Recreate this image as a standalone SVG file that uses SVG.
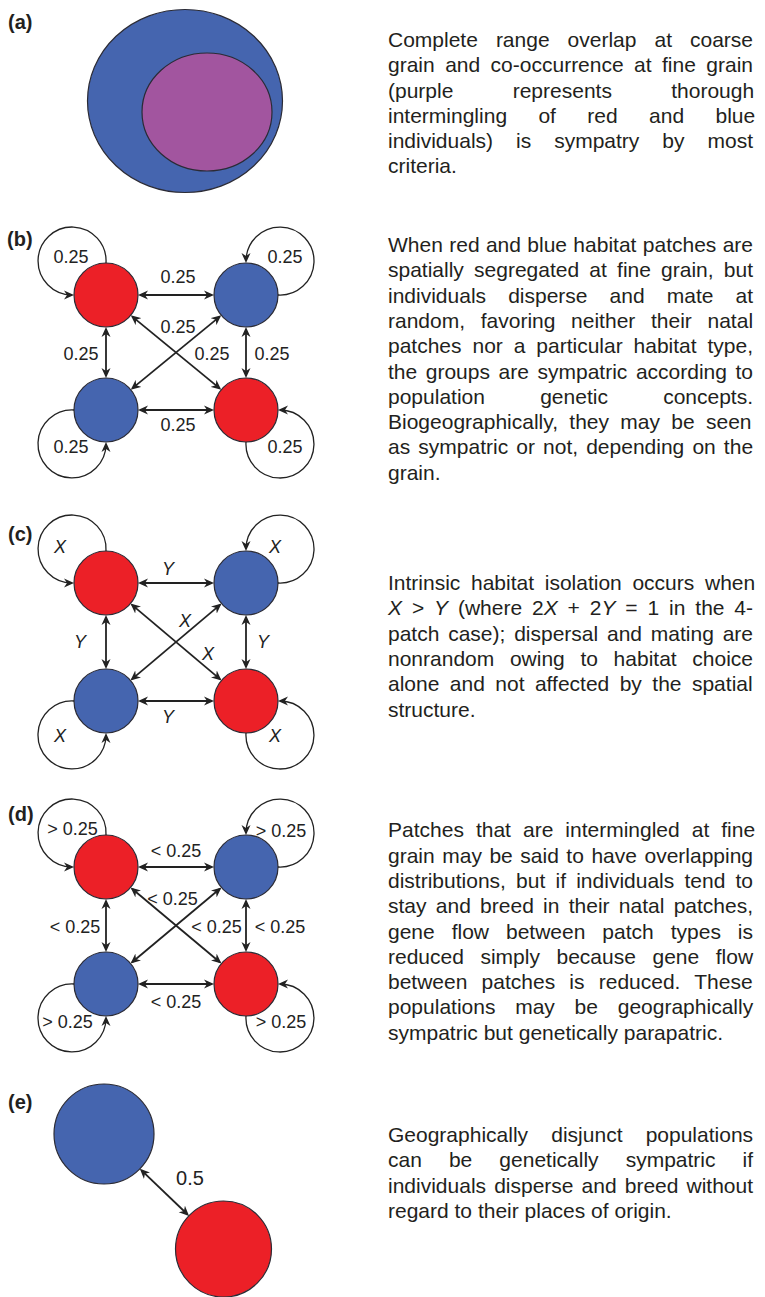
<svg xmlns="http://www.w3.org/2000/svg" width="765" height="1297" viewBox="0 0 765 1297">
<style>
.bg{fill:#ffffff}
.red{fill:#EC2027;stroke:#2b2b35;stroke-width:1.2}
.blue{fill:#4565AF;stroke:#2b2b35;stroke-width:1.2}
.purple{fill:#A2559F;stroke:#2b2b35;stroke-width:1.2}
.edge{fill:none;stroke:#222;stroke-width:1.8;marker-start:url(#ah);marker-end:url(#ah)}
.loop{fill:none;stroke:#222;stroke-width:1.3;marker-end:url(#ah)}
.lab{font-family:"Liberation Sans",Arial,sans-serif;font-size:18px;fill:#222;text-anchor:middle}
.it{font-style:italic}
.pl{font-family:"Liberation Sans",Arial,sans-serif;font-size:20px;font-weight:bold;fill:#231f20}
.desc text{font-family:"Liberation Sans",Arial,sans-serif;font-size:21px;fill:#231f20}
</style>
<defs>
<marker id="ah" viewBox="0 0 10 10" refX="8" refY="5" markerWidth="10" markerHeight="10" markerUnits="userSpaceOnUse" orient="auto-start-reverse">
<path d="M0,0.5 L10,5 L0,9.5 L3,5 z" fill="#222"/>
</marker>
</defs>
<rect class="bg" x="0" y="0" width="765" height="1297"/>

<!-- panel labels -->
<g id="panel-labels">
<text class="pl" x="8" y="29">(a)</text>
<text class="pl" x="7" y="246">(b)</text>
<text class="pl" x="8" y="541">(c)</text>
<text class="pl" x="8" y="821">(d)</text>
<text class="pl" x="8" y="1109">(e)</text>
</g>

<!-- (a) -->
<g id="a-range">
<ellipse class="blue" cx="185" cy="101" rx="97.5" ry="91.5"/>
<ellipse class="purple" cx="207" cy="112" rx="65" ry="59"/>
</g>

<!-- (b) nodes -->
<g id="b-nodes">
<circle id="b-tl" class="red" cx="106" cy="295" r="32"/>
<circle id="b-tr" class="blue" cx="246" cy="295" r="32"/>
<circle id="b-bl" class="blue" cx="106" cy="410" r="32"/>
<circle id="b-br" class="red" cx="246" cy="410" r="32"/>
</g>
<g id="b-connectors">
<line class="edge" x1="140" y1="295" x2="212" y2="295"/>
<line class="edge" x1="140" y1="410" x2="212" y2="410"/>
<line class="edge" x1="106" y1="329" x2="106" y2="376"/>
<line class="edge" x1="246" y1="329" x2="246" y2="376"/>
<line class="edge" x1="132.3" y1="316.6" x2="219.7" y2="388.4"/>
<line class="edge" x1="219.7" y1="316.6" x2="132.3" y2="388.4"/>
<path class="loop" d="M106,263 A34,34 0 1 0 72,295"/>
<path class="loop" d="M278,295 A34,34 0 1 0 246,261"/>
<path class="loop" d="M74,410 A34,34 0 1 0 106,444"/>
<path class="loop" d="M246,442 A34,34 0 1 0 280,410"/>
</g>
<g id="b-labels">
<text class="lab" x="71" y="263">0.25</text>
<text class="lab" x="285" y="263">0.25</text>
<text class="lab" x="71" y="453">0.25</text>
<text class="lab" x="285" y="453">0.25</text>
<text class="lab" x="178" y="283">0.25</text>
<text class="lab" x="178" y="333">0.25</text>
<text class="lab" x="81" y="360">0.25</text>
<text class="lab" x="212" y="360">0.25</text>
<text class="lab" x="272" y="360">0.25</text>
<text class="lab" x="178" y="431">0.25</text>
</g>

<!-- (c) nodes -->
<g id="c-nodes">
<circle id="c-tl" class="red" cx="106" cy="583" r="32"/>
<circle id="c-tr" class="blue" cx="246" cy="583" r="32"/>
<circle id="c-bl" class="blue" cx="106" cy="701" r="32"/>
<circle id="c-br" class="red" cx="246" cy="701" r="32"/>
</g>
<g id="c-connectors">
<line class="edge" x1="140" y1="583" x2="212" y2="583"/>
<line class="edge" x1="140" y1="701" x2="212" y2="701"/>
<line class="edge" x1="106" y1="617" x2="106" y2="667"/>
<line class="edge" x1="246" y1="617" x2="246" y2="667"/>
<line class="edge" x1="132" y1="604.9" x2="220" y2="679.1"/>
<line class="edge" x1="220" y1="604.9" x2="132" y2="679.1"/>
<path class="loop" d="M106,551 A34,34 0 1 0 72,583"/>
<path class="loop" d="M278,583 A34,34 0 1 0 246,549"/>
<path class="loop" d="M74,701 A34,34 0 1 0 106,735"/>
<path class="loop" d="M246,733 A34,34 0 1 0 280,701"/>
</g>
<g id="c-labels" class="it">
<text class="lab it" x="60" y="553">X</text>
<text class="lab it" x="275" y="553">X</text>
<text class="lab it" x="168" y="575">Y</text>
<text class="lab it" x="185" y="627">X</text>
<text class="lab it" x="208" y="660">X</text>
<text class="lab it" x="80" y="648">Y</text>
<text class="lab it" x="263" y="648">Y</text>
<text class="lab it" x="168" y="723">Y</text>
<text class="lab it" x="60" y="742">X</text>
<text class="lab it" x="275" y="742">X</text>
</g>

<!-- (d) nodes -->
<g id="d-nodes">
<circle id="d-tl" class="red" cx="106" cy="867" r="32"/>
<circle id="d-tr" class="blue" cx="246" cy="867" r="32"/>
<circle id="d-bl" class="blue" cx="106" cy="984" r="32"/>
<circle id="d-br" class="red" cx="246" cy="984" r="32"/>
</g>
<g id="d-connectors">
<line class="edge" x1="140" y1="867" x2="212" y2="867"/>
<line class="edge" x1="140" y1="984" x2="212" y2="984"/>
<line class="edge" x1="106" y1="901" x2="106" y2="950"/>
<line class="edge" x1="246" y1="901" x2="246" y2="950"/>
<line class="edge" x1="132.1" y1="888.8" x2="219.9" y2="962.2"/>
<line class="edge" x1="219.9" y1="888.8" x2="132.1" y2="962.2"/>
<path class="loop" d="M106,835 A34,34 0 1 0 72,867"/>
<path class="loop" d="M278,867 A34,34 0 1 0 246,833"/>
<path class="loop" d="M74,984 A34,34 0 1 0 106,1018"/>
<path class="loop" d="M246,1016 A34,34 0 1 0 280,984"/>
</g>
<g id="d-labels">
<text class="lab" x="72.5" y="835">&gt; 0.25</text>
<text class="lab" x="281" y="837">&gt; 0.25</text>
<text class="lab" x="176" y="857">&lt; 0.25</text>
<text class="lab" x="172.5" y="905">&lt; 0.25</text>
<text class="lab" x="75" y="933">&lt; 0.25</text>
<text class="lab" x="216.5" y="933">&lt; 0.25</text>
<text class="lab" x="280" y="933">&lt; 0.25</text>
<text class="lab" x="176" y="1008">&lt; 0.25</text>
<text class="lab" x="67.5" y="1028">&gt; 0.25</text>
<text class="lab" x="281" y="1028">&gt; 0.25</text>
</g>

<!-- (e) -->
<g id="e-nodes">
<circle id="e-blue" class="blue" cx="104" cy="1134" r="50"/>
<circle id="e-red" class="red" cx="223.5" cy="1249" r="48"/>
</g>
<g id="e-connectors">
<line class="edge" x1="141.3" y1="1170.2" x2="187.6" y2="1214.5"/>
</g>
<g id="e-labels">
<text class="lab" x="190" y="1185" style="font-size:20px">0.5</text>
</g>

<!-- descriptions -->
<g id="desc-a" class="desc">
<text x="388" y="47.2" word-spacing="12.17">Complete range overlap at coarse</text>
<text x="388" y="72.4" word-spacing="4.60">grain and co-occurrence at fine grain</text>
<text x="388" y="97.6" word-spacing="53.47">(purple represents thorough</text>
<text x="388" y="122.8" word-spacing="25.54">intermingling of red and blue</text>
<text x="388" y="148" word-spacing="17.15">individuals) is sympatry by most</text>
<text x="388" y="173.2">criteria.</text>
</g>
<g id="desc-b" class="desc">
<text x="388" y="252" word-spacing="0.52">When red and blue habitat patches are</text>
<text x="388" y="277.3" word-spacing="4.36">spatially segregated at fine grain, but</text>
<text x="388" y="302.6" word-spacing="16.26">individuals disperse and mate at</text>
<text x="388" y="327.9" word-spacing="9.84">random, favoring neither their natal</text>
<text x="388" y="353.2" word-spacing="5.07">patches nor a particular habitat type,</text>
<text x="388" y="378.5" word-spacing="2.74">the groups are sympatric according to</text>
<text x="388" y="403.8" word-spacing="49.42">population genetic concepts.</text>
<text x="388" y="429.1" word-spacing="5.46">Biogeographically, they may be seen</text>
<text x="388" y="454.4" word-spacing="2.28">as sympatric or not, depending on the</text>
<text x="388" y="479.7">grain.</text>
</g>
<g id="desc-c" class="desc">
<text x="388" y="590" word-spacing="4.83">Intrinsic habitat isolation occurs when</text>
<text x="388" y="615.3" word-spacing="4.05"><tspan font-style="italic">X</tspan> &gt; <tspan font-style="italic">Y</tspan> (where 2<tspan font-style="italic">X</tspan> + 2<tspan font-style="italic">Y</tspan> = 1 in the 4-</text>
<text x="388" y="640.6" word-spacing="2.97">patch case); dispersal and mating are</text>
<text x="388" y="665.9" word-spacing="9.83">nonrandom owing to habitat choice</text>
<text x="388" y="691.2" word-spacing="4.60">alone and not affected by the spatial</text>
<text x="388" y="716.5">structure.</text>
</g>
<g id="desc-d" class="desc">
<text x="388" y="837.3" word-spacing="6.19">Patches that are intermingled at fine</text>
<text x="388" y="862.6" word-spacing="1.69">grain may be said to have overlapping</text>
<text x="388" y="887.9" word-spacing="4.37">distributions, but if individuals tend to</text>
<text x="388" y="913.2" word-spacing="3.44">stay and breed in their natal patches,</text>
<text x="388" y="938.5" word-spacing="11.13">gene flow between patch types is</text>
<text x="388" y="963.8" word-spacing="10.72">reduced simply because gene flow</text>
<text x="388" y="989.1" word-spacing="8.37">between patches is reduced. These</text>
<text x="388" y="1014.4" word-spacing="13.92">populations may be geographically</text>
<text x="388" y="1039.7">sympatric but genetically parapatric.</text>
</g>
<g id="desc-e" class="desc">
<text x="388" y="1142" word-spacing="17.35">Geographically disjunct populations</text>
<text x="388" y="1167.3" word-spacing="21.23">can be genetically sympatric if</text>
<text x="388" y="1192.6" word-spacing="2.25">individuals disperse and breed without</text>
<text x="388" y="1217.9">regard to their places of origin.</text>
</g>
</svg>
